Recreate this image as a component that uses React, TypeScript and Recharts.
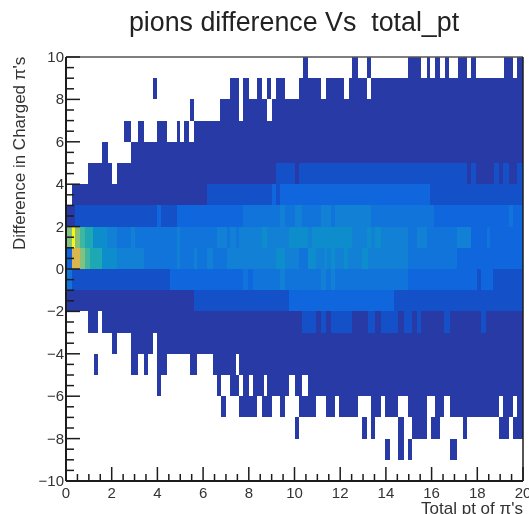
import { ComposedChart, XAxis, YAxis, ReferenceArea, ReferenceLine } from "recharts";

const TITLE = "pions difference Vs\u00a0 total_pt";
const X_LABEL = "Total pt of \u03c0's";
const Y_LABEL = "Difference in Charged \u03c0's";

const xTicks = [
  0, 0.5, 1, 1.5, 2, 2.5, 3, 3.5, 4, 4.5, 5, 5.5, 6, 6.5, 7, 7.5, 8, 8.5, 9, 9.5, 10,
  10.5, 11, 11.5, 12, 12.5, 13, 13.5, 14, 14.5, 15, 15.5, 16, 16.5, 17, 17.5, 18, 18.5, 19, 19.5, 20,
];
const yTicks = [
  -10, -9.5, -9, -8.5, -8, -7.5, -7, -6.5, -6, -5.5, -5, -4.5, -4, -3.5, -3, -2.5, -2, -1.5, -1, -0.5, 0,
  0.5, 1, 1.5, 2, 2.5, 3, 3.5, 4, 4.5, 5, 5.5, 6, 6.5, 7, 7.5, 8, 8.5, 9, 9.5, 10,
];

// colour per occupancy level, low to high
const levels = [
  "#283aa6", "#1450c8", "#1066dc", "#1174da", "#1280d4", "#0e8dcc",
  "#1ea8b4", "#3fb7a0", "#84c07e", "#d9b64e", "#f4d43a", "#f8f80e",
];

// each row is one y bin, cells are [x from, x to, level]
type Cell = [number, number, number];

const row9: Cell[] = [
  [10.39, 10.59, 0], [12.53, 12.78, 0], [13.19, 13.36, 0], [14.97, 15.52, 0], [15.81, 15.93, 0],
  [16.13, 16.37, 0], [16.57, 16.77, 0], [17.15, 17.53, 0], [17.74, 17.94, 0], [19.17, 19.55, 0], [19.75, 20, 0],
];
const row8: Cell[] = [
  [3.82, 4.0, 0], [7.18, 7.59, 0], [7.76, 7.99, 0], [8.34, 8.58, 0], [8.78, 8.98, 0], [9.19, 9.57, 0],
  [10.2, 11.18, 0], [11.36, 12.17, 0], [12.39, 13.19, 0], [13.36, 20, 0],
];
const row7: Cell[] = [[5.43, 5.6, 0], [6.74, 7.59, 0], [7.76, 8.78, 0], [9.0, 20, 0]];
const row6: Cell[] = [[2.55, 2.83, 0], [3.15, 3.41, 0], [4.0, 4.41, 0], [4.84, 4.99, 0], [5.16, 5.4, 0], [5.6, 20, 0]];
const row5: Cell[] = [[1.56, 1.82, 0], [2.83, 20, 0]];
const row4: Cell[] = [
  [0.98, 2.0, 0], [2.25, 9.19, 0], [9.19, 10.01, 1], [10.01, 10.2, 0], [10.2, 17.53, 1], [17.53, 17.74, 0],
  [17.74, 17.94, 1], [17.94, 18.73, 0], [18.73, 18.96, 1], [18.96, 19.14, 0], [19.14, 19.39, 1], [19.39, 19.72, 0], [19.72, 20, 1],
];
const row3: Cell[] = [
  [0.25, 6.16, 0], [6.16, 9.03, 1], [9.03, 9.19, 2], [9.19, 9.37, 1], [9.37, 15.93, 2], [15.93, 20, 1],
];
const row2: Cell[] = [
  [0, 0.39, 0], [0.39, 3.97, 1], [3.97, 4.14, 2], [4.14, 4.84, 1], [4.84, 7.76, 2], [7.76, 9.37, 3], [9.37, 9.57, 4],
  [9.57, 10.0, 3], [10.0, 10.34, 4], [10.34, 11.18, 3], [11.18, 11.58, 4], [11.58, 11.76, 3], [11.76, 13.36, 4],
  [13.36, 16.1, 3], [16.1, 19.39, 2], [19.39, 19.58, 3], [19.58, 20, 2],
];
const row1: Cell[] = [
  [0, 0.25, 8], [0.25, 0.39, 11], [0.39, 0.61, 8], [0.61, 0.83, 7], [0.83, 1.2, 6], [1.2, 1.81, 5], [1.81, 2.25, 4],
  [2.25, 2.83, 3], [2.83, 3.02, 4], [3.02, 4.84, 3], [4.84, 4.99, 4], [4.99, 6.59, 3], [6.59, 7.03, 4], [7.03, 7.18, 3],
  [7.18, 7.44, 4], [7.44, 7.59, 3], [7.59, 8.56, 4], [8.56, 8.78, 5], [8.78, 9.76, 4], [9.76, 10.59, 5], [10.59, 10.78, 4],
  [10.78, 12.53, 5], [12.53, 13.19, 4], [13.19, 13.36, 5], [13.36, 13.54, 4], [13.54, 13.8, 5], [13.8, 14.97, 4],
  [14.97, 15.38, 3], [15.38, 15.78, 4], [15.78, 17.13, 3], [17.13, 17.71, 4], [17.71, 18.41, 2], [18.41, 18.56, 3], [18.56, 20, 2],
];
const row0: Cell[] = [
  [0, 0.25, 2], [0.25, 0.61, 9], [0.61, 0.83, 8], [0.83, 1.05, 7], [1.05, 1.56, 6], [1.56, 2.22, 5], [2.22, 3.41, 4],
  [3.41, 4.84, 3], [4.84, 4.99, 4], [4.99, 5.6, 3], [5.6, 5.75, 4], [5.75, 6.16, 3], [6.16, 6.42, 4], [6.42, 7.03, 3],
  [7.03, 9.19, 4], [9.19, 9.6, 5], [9.6, 10.2, 4], [10.2, 10.59, 3], [10.59, 10.93, 5], [10.93, 11.32, 4], [11.32, 11.41, 5],
  [11.41, 11.61, 4], [11.61, 11.76, 5], [11.76, 12.17, 4], [12.17, 12.34, 5], [12.34, 12.97, 4], [12.97, 13.22, 5],
  [13.22, 14.97, 4], [14.97, 17.13, 3], [17.13, 20, 2],
];
const rowM1: Cell[] = [
  [0, 0.25, 3], [0.25, 4.55, 1], [4.55, 7.76, 2], [7.76, 7.98, 3], [7.98, 8.2, 2], [8.2, 9.37, 3], [9.37, 9.57, 4],
  [9.57, 11.18, 3], [11.18, 11.36, 4], [11.36, 11.61, 3], [11.61, 11.76, 4], [11.76, 14.97, 3], [14.97, 17.97, 2],
  [17.97, 18.15, 1], [18.15, 18.7, 2], [18.7, 20, 1],
];
const rowM2: Cell[] = [[0, 5.6, 0], [5.6, 9.76, 1], [9.76, 14.35, 2], [14.35, 20, 1]];
const rowM3: Cell[] = [
  [0.98, 1.41, 0], [1.56, 10.34, 0], [10.34, 10.95, 1], [10.95, 11.18, 0], [11.18, 11.36, 1], [11.36, 11.61, 0],
  [11.61, 12.53, 1], [12.53, 13.22, 0], [13.22, 13.54, 1], [13.54, 13.8, 0], [13.8, 14.53, 1], [14.53, 14.79, 0],
  [14.79, 15.13, 1], [15.13, 15.38, 0], [15.38, 15.52, 1], [15.52, 16.54, 0], [16.54, 16.8, 1], [16.8, 18.15, 0],
  [18.15, 18.4, 1], [18.4, 20, 0],
];
const rowM4: Cell[] = [[2.0, 2.25, 0], [2.83, 3.82, 0], [4.0, 20, 0]];
const rowM5: Cell[] = [
  [1.24, 1.41, 0], [2.83, 3.15, 0], [3.41, 3.57, 0], [4.0, 4.41, 0], [5.43, 5.75, 0], [6.42, 7.44, 0], [7.59, 20, 0],
];
const rowM6: Cell[] = [
  [4.0, 4.16, 0], [6.59, 6.77, 0], [7.18, 7.59, 0], [7.76, 8.02, 0], [8.2, 8.67, 0], [8.78, 9.77, 0], [10.0, 10.34, 0], [10.59, 20, 0],
];
const rowM7: Cell[] = [
  [6.77, 7.0, 0], [7.59, 8.34, 0], [8.59, 9.0, 0], [9.37, 9.6, 0], [10.2, 10.93, 0], [11.36, 11.76, 0], [11.95, 12.78, 0],
  [13.36, 13.77, 0], [13.95, 14.53, 0], [14.97, 15.78, 0], [16.13, 16.54, 0], [16.8, 18.96, 0], [19.14, 19.55, 0], [19.72, 20, 0],
];
const rowM8: Cell[] = [
  [10.0, 10.18, 0], [12.97, 13.19, 0], [13.36, 13.54, 0], [14.53, 14.79, 0], [15.13, 15.78, 0], [15.96, 16.37, 0],
  [17.39, 17.56, 0], [18.96, 19.4, 0], [19.57, 20, 0],
];
const rowM9: Cell[] = [[13.95, 14.2, 0], [14.53, 14.79, 0], [14.97, 15.13, 0], [16.8, 17.13, 0]];

const rows: [number, Cell[]][] = [
  [9, row9], [8, row8], [7, row7], [6, row6], [5, row5], [4, row4], [3, row3], [2, row2], [1, row1], [0, row0],
  [-1, rowM1], [-2, rowM2], [-3, rowM3], [-4, rowM4], [-5, rowM5], [-6, rowM6], [-7, rowM7], [-8, rowM8], [-9, rowM9],
];

const FONT = "'Liberation Sans', Arial, sans-serif";
const INK = "#1c1c1c";
const layer = { position: "absolute", left: 0, top: 0 } as const;

const fmt = (v: number) => (v < 0 ? "\u2212" + Math.abs(v) : String(v));

function XTick({ x, y, payload }: any) {
  const major = payload.value % 2 === 0;
  return (
    <g>
      <line x1={x} x2={x} y1={y} y2={y - (major ? 14 : 7)} stroke={INK} strokeWidth={1.5} />
      {major && (
        <text x={x} y={y + 17} textAnchor="middle" fontSize={15} fontFamily={FONT} fill="#333">
          {payload.value}
        </text>
      )}
    </g>
  );
}

function YTick({ x, y, payload }: any) {
  const major = payload.value % 2 === 0;
  return (
    <g>
      <line x1={x} x2={x + (major ? 14 : 8)} y1={y} y2={y} stroke={INK} strokeWidth={1.5} />
      {major && (
        <text x={x - 2} y={y + 5} textAnchor="end" fontSize={15} fontFamily={FONT} fill="#333">
          {fmt(payload.value)}
        </text>
      )}
    </g>
  );
}

export default function App() {
  return (
    <div style={{ ...layer, width: 529, height: 514, overflow: "hidden", background: "#fff", filter: "blur(0.5px)" }}>
      {/* heat cells underneath, axes chart on top so ticks stay visible over the cells */}
      <div style={layer}>
        <ComposedChart width={529} height={514} data={[]} margin={{ top: 57, right: 6, bottom: 33, left: 66 }}>
          <XAxis hide type="number" dataKey="x" domain={[0, 20]} allowDataOverflow />
          <YAxis hide type="number" domain={[-10, 10]} allowDataOverflow />
          {rows.map(([low, cells]) =>
            cells.map(([x0, x1, level]) => (
              <ReferenceArea
                key={`${low}-${x0}`}
                x1={x0}
                x2={x1}
                y1={low}
                y2={low + 1}
                fill={levels[level]}
                fillOpacity={1}
                stroke="none"
                shapeRendering="crispEdges"
              />
            )),
          )}
        </ComposedChart>
      </div>
      <div style={layer}>
        <ComposedChart width={529} height={514} data={[]} margin={{ top: 57, right: 6, bottom: 0, left: 16 }}>
          <ReferenceLine y={10} stroke="#555" strokeWidth={1.5} />
          <ReferenceLine x={20} stroke={INK} strokeWidth={1.5} />
          <XAxis
            type="number"
            dataKey="x"
            domain={[0, 20]}
            ticks={xTicks}
            interval={0}
            height={33}
            tickLine={false}
            tickSize={0}
            tickMargin={0}
            tick={<XTick />}
            axisLine={{ stroke: INK, strokeWidth: 2 }}
            allowDataOverflow
          />
          <YAxis
            type="number"
            domain={[-10, 10]}
            ticks={yTicks}
            interval={0}
            width={50}
            tickLine={false}
            tickSize={0}
            tickMargin={0}
            tick={<YTick />}
            axisLine={{ stroke: INK, strokeWidth: 2 }}
            allowDataOverflow
          />
          <text x={294} y={31} textAnchor="middle" fontSize={26.8} fontFamily={FONT} fill="#222">
            {TITLE}
          </text>
          <text x={523} y={514} textAnchor="end" fontSize={17} fontFamily={FONT} fill="#333">
            {X_LABEL}
          </text>
          <text
            transform="translate(25 250) rotate(-90)"
            textAnchor="start"
            fontSize={17}
            fontFamily={FONT}
            fill="#333"
          >
            {Y_LABEL}
          </text>
        </ComposedChart>
      </div>
    </div>
  );
}
